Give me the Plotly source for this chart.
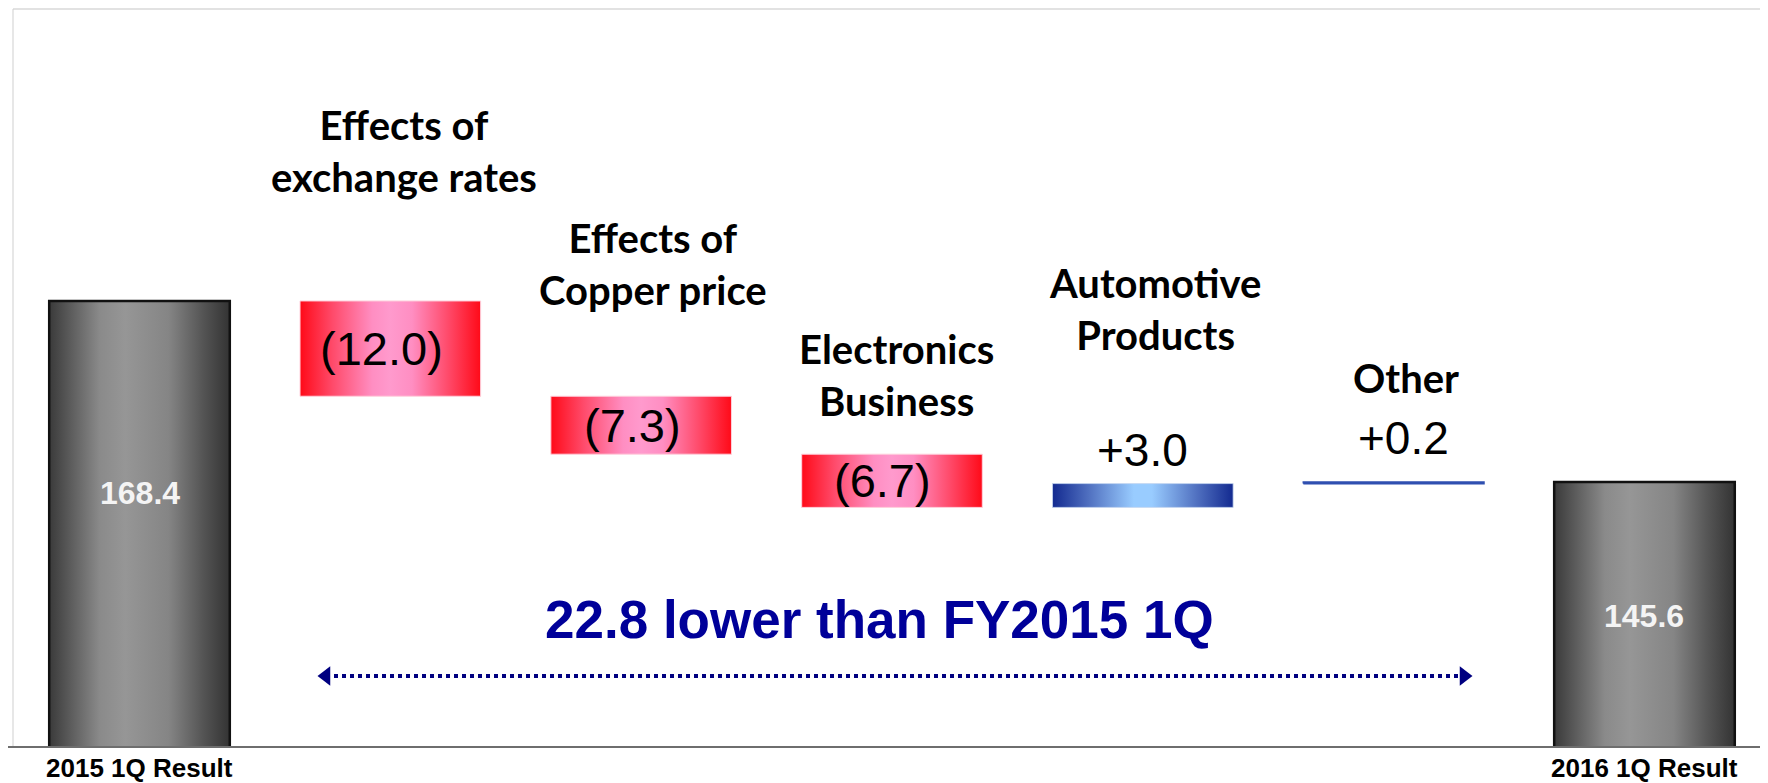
import plotly.graph_objects as go

# data
categories = ["2015 1Q Result", "Effects of<br>exchange rates", "Effects of<br>Copper price",
              "Electronics<br>Business", "Automotive<br>Products", "Other", "2016 1Q Result"]
start_total = 168.4
changes = [-12.0, -7.3, -6.7, 3.0, 0.2]
end_total = 145.6
value_labels = ["168.4", "(12.0)", "(7.3)", "(6.7)", "+3.0", "+0.2", "145.6"]
message = "22.8 lower than FY2015 1Q"

# geometry, in pixels of the 1768x783 page (the figure div sits 8px in from the corner)
OFF = 8
W, H = 1768 - 2 * OFF, 783 - OFF
BASE = 746                     # baseline, page px
PLOT_H = BASE - OFF
K = 7.94                       # px per unit
Y0 = 112.35                    # value at the baseline
X_STEP, X_FIRST = 250.83, 139.5
BAR_W = 0.72


def xd(px):
    return (px - X_FIRST) / X_STEP


def yd(py):
    return Y0 + (BASE - py) / K


def xp(px):
    return (px - OFF) / W


def yp(py):
    return (BASE - py) / PLOT_H


# waterfall spans
spans = [(0, start_total)]
level = start_total
for c in changes:
    spans.append((min(level, level + c), max(level, level + c)))
    level += c
spans.append((0, end_total))

gray = [[0, "#3a3a3a"], [0.28, "#8a8a8a"], [0.42, "#969696"], [0.66, "#858585"], [0.85, "#555555"], [1, "#333333"]]
red = [[0, "#ff0a18"], [0.18, "#ff4a6a"], [0.4, "#ff8ec2"], [0.5, "#ff9acd"], [0.62, "#ff8ec2"], [0.82, "#ff4a6a"], [1, "#ff0a18"]]
blue = [[0, "#132a90"], [0.2, "#5070c0"], [0.45, "#99ccff"], [0.55, "#99ccff"], [0.8, "#5070c0"], [1, "#132a90"]]

fig = go.Figure()
for i, (lo, hi) in enumerate(spans):
    if i in (0, len(spans) - 1):
        scale, line = gray, dict(color="#111111", width=2.5)
    elif changes[i - 1] < 0:
        scale, line = red, dict(color="#ffd0dc", width=1)
    elif abs(changes[i - 1]) < 1:
        scale, line = blue, dict(color="#2f4fb0", width=1.6)
    else:
        scale, line = blue, dict(color="#c8d8f0", width=0.8)
    x0, x1 = i - BAR_W / 2, i + BAR_W / 2
    fig.add_trace(go.Scatter(
        x=[x0, x1, x1, x0, x0], y=[lo, lo, hi, hi, lo],
        mode="lines", fill="toself", line=line,
        fillgradient=dict(type="horizontal", colorscale=scale),
        hoverinfo="skip", showlegend=False))

# dotted double arrow
ay = yd(676)
fig.add_trace(go.Scatter(x=[xd(326), xd(1464)], y=[ay, ay], mode="lines",
                         line=dict(color="#000080", width=4, dash="dot"),
                         hoverinfo="skip", showlegend=False))
fig.add_trace(go.Scatter(x=[xd(326), xd(1464)], y=[ay, ay], mode="markers",
                         marker=dict(symbol=["triangle-left", "triangle-right"], size=17, color="#000080"),
                         hoverinfo="skip", showlegend=False))

ann = []
# totals labels
for i, ypx in ((0, 493), (6, 616)):
    ann.append(dict(x=i, y=yd(ypx), text="<b>%s</b>" % value_labels[i], showarrow=False,
                    font=dict(family="Liberation Sans, Arial", size=32, color="#f4f4f4")))
# change labels
for i in range(1, 4):
    lo, hi = spans[i]
    ann.append(dict(x=i, y=(lo + hi) / 2, text=value_labels[i], showarrow=False, xshift=-9,
                    font=dict(family="Liberation Sans, Arial", size=47, color="#000000")))
for i, ypx, xs in ((4, 450, 0), (5, 438, 10)):
    ann.append(dict(x=i, y=yd(ypx), text=value_labels[i], showarrow=False, xshift=xs,
                    font=dict(family="Liberation Sans, Arial", size=46, color="#000000")))
# category labels
cat_pos = {1: (150.5, 14), 2: (263.5, 12), 3: (375.5, 5), 4: (309, 12), 5: (378, 12)}
for i, (ypx, xs) in cat_pos.items():
    ann.append(dict(x=i, y=yp(ypx), yref="paper", yanchor="middle", xanchor="center",
                    text="<b>%s</b>" % categories[i], showarrow=False,
                    xshift=xs, font=dict(family="Lato", size=40, color="#000000")))
# axis labels of the two totals
for i in (0, 6):
    ann.append(dict(x=i, y=yp(768), yref="paper", yanchor="middle", xanchor="center",
                    text="<b>%s</b>" % categories[i], showarrow=False,
                    font=dict(family="Liberation Sans, Arial", size=26, color="#000000")))
ann.append(dict(x=xd(879), y=yd(619), text="<b>%s</b>" % message, showarrow=False,
                font=dict(family="Liberation Sans, Arial", size=53, color="#000099")))

fig.update_layout(
    width=W, height=H,
    margin=dict(l=0, r=0, t=0, b=H - PLOT_H),
    paper_bgcolor="white", plot_bgcolor="white",
    annotations=ann,
    shapes=[
        dict(type="line", xref="paper", yref="paper", x0=xp(13), x1=1, y0=yp(9), y1=yp(9),
             line=dict(color="#e2e2e2", width=2)),
        dict(type="line", xref="paper", yref="paper", x0=xp(13), x1=xp(13), y0=0, y1=yp(9),
             line=dict(color="#cfcfcf", width=1)),
    ],
)
fig.update_xaxes(range=[xd(OFF), xd(OFF + W)], showgrid=False, zeroline=False,
                 showline=True, linecolor="#6e6e6e", linewidth=2, showticklabels=False)
fig.update_yaxes(range=[Y0, yd(OFF)], visible=False)

fig.write_html("out.html")
